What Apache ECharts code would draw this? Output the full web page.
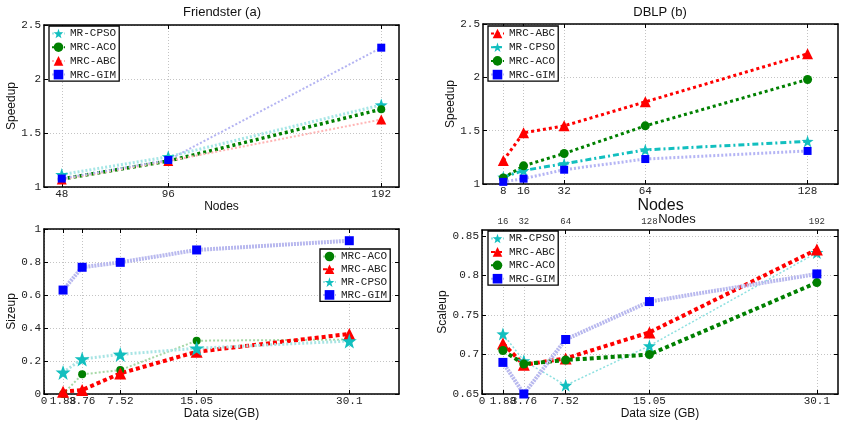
<!DOCTYPE html>
<html>
<head>
<meta charset="utf-8">
<script src="https://cdn.jsdelivr.net/npm/echarts@6/dist/echarts.min.js"></script>
<style>
  html, body { margin: 0; padding: 0; background: #fff; }
  #chart { width: 843px; height: 422px; }
</style>
</head>
<body>
<div id="chart"></div>
<script>
// (a) Friendster speedup
const friendNodes = [48, 96, 192]
const friendCPSO = [1.115, 1.28, 1.76]
const friendACO = [1.075, 1.24, 1.72]
const friendABC = [1.07, 1.24, 1.625]
const friendGIM = [1.078, 1.25, 2.29]

// (b) DBLP speedup
const dblpNodes = [8, 16, 32, 64, 128]
const dblpABC = [1.22, 1.48, 1.545, 1.77, 2.22]
const dblpCPSO = [1.065, 1.127, 1.19, 1.32, 1.4]
const dblpACO = [1.056, 1.17, 1.286, 1.545, 1.98]
const dblpGIM = [1.02, 1.05, 1.134, 1.234, 1.31]

// sizeup / scaleup against data size
const dataSizes = [1.88, 3.76, 7.52, 15.05, 30.1]
const sizeTicks = [0, 1.88, 3.76, 7.52, 15.05, 30.1]
const sizeupACO = [0.0, 0.119, 0.145, 0.323, 0.33]
const sizeupABC = [0.014, 0.024, 0.125, 0.256, 0.364]
const sizeupCPSO = [0.131, 0.212, 0.24, 0.277, 0.321]
const sizeupGIM = [0.63, 0.768, 0.798, 0.873, 0.929]

const scaleNodes = [16, 32, 64, 128, 192]
const scaleupCPSO = [0.726, 0.692, 0.661, 0.711, 0.829]
const scaleupABC = [0.714, 0.687, 0.695, 0.728, 0.833]
const scaleupACO = [0.705, 0.688, 0.693, 0.7, 0.791]
const scaleupGIM = [0.69, 0.65, 0.719, 0.767, 0.802]

const mono = 'Liberation Mono'
const sans = 'Liberation Sans'
const star = 'path://M0,-10 L2.35,-3.24 L9.51,-3.09 L3.8,1.24 L5.88,8.09 L0,4 L-5.88,8.09 L-3.8,1.24 L-9.51,-3.09 L-2.35,-3.24 Z'

const c = { cyan: '#12bfbf', green: '#008000', red: '#ff0000', blue: '#0000ff' }

function xAxes(gi, min, max, ticks, name, nameSize, nameGap, topFormatter) {
  const base = {
    type: 'value', gridIndex: gi, min, max,
    axisLine: { show: true, onZero: false, lineStyle: { color: '#000', width: 1.5 } },
    axisTick: { inside: true, length: 4, customValues: ticks, lineStyle: { color: '#000' } }
  }
  return [
    {
      ...base, position: 'bottom',
      axisLabel: { customValues: ticks, fontFamily: mono, fontSize: 11, color: '#222', margin: 2 },
      splitLine: { show: true, lineStyle: { color: '#c4c4c4', type: [1, 2] } },
      name, nameLocation: 'middle', nameGap,
      nameTextStyle: { fontFamily: sans, fontSize: nameSize, color: '#111', verticalAlign: 'top' }
    },
    {
      ...base, position: 'top',
      axisLabel: topFormatter
        ? { show: true, customValues: ticks, formatter: topFormatter, fontFamily: mono, fontSize: 9, color: '#333', margin: 4 }
        : { show: false },
      splitLine: { show: false }
    }
  ]
}

function yAxes(gi, min, max, ticks, name, nameGap) {
  const base = {
    type: 'value', gridIndex: gi, min, max,
    axisLine: { show: true, onZero: false, lineStyle: { color: '#000', width: 1.5 } },
    axisTick: { inside: true, length: 4, customValues: ticks, lineStyle: { color: '#000' } }
  }
  return [
    {
      ...base, position: 'left',
      axisLabel: { customValues: ticks, fontFamily: mono, fontSize: 11, color: '#222', margin: 3 },
      splitLine: { show: true, lineStyle: { color: '#c4c4c4', type: [1, 2] } },
      name, nameLocation: 'middle', nameGap,
      nameTextStyle: { fontFamily: sans, fontSize: 12, color: '#111' }
    },
    { ...base, position: 'right', axisLabel: { show: false }, splitLine: { show: false } }
  ]
}

function line(name, gi, xs, ys, color, symbol, size, lineColor, width, type) {
  return {
    type: 'line', name: name + '#' + gi,
    xAxisIndex: gi * 2, yAxisIndex: gi * 2,
    data: xs.map((x, i) => [x, ys[i]]),
    symbol, symbolSize: size, showAllSymbol: true,
    itemStyle: { color },
    lineStyle: { color: lineColor, width, type },
    clip: false, animation: false
  }
}

function legend(gi, names, left, top, gap) {
  return {
    orient: 'vertical', left, top,
    data: names.map((n) => n + '#' + gi),
    formatter: (n) => n.split('#')[0],
    itemWidth: 13, itemHeight: 12, itemGap: gap,
    textStyle: { fontFamily: mono, fontSize: 11, color: '#222' },
    borderColor: '#000', borderWidth: 1.3, backgroundColor: '#fff',
    padding: [2, 3, 1, 2], selectedMode: false
  }
}

const series = [
  line('MR-CPSO', 0, friendNodes, friendCPSO, c.cyan, star, 13, '#a6e6e6', 3, [2, 2]),
  line('MRC-ACO', 0, friendNodes, friendACO, c.green, 'circle', 8, c.green, 3.5, [3, 3]),
  line('MRC-ABC', 0, friendNodes, friendABC, c.red, 'triangle', 10, '#ffb4b4', 2, [2, 2]),
  line('MRC-GIM', 0, friendNodes, friendGIM, c.blue, 'rect', 8, '#b4b4f2', 2, [2, 2]),

  line('MRC-ABC', 1, dblpNodes, dblpABC, c.red, 'triangle', 11, c.red, 3, [3, 3]),
  line('MR-CPSO', 1, dblpNodes, dblpCPSO, c.cyan, star, 12, c.cyan, 3, [6, 3, 2, 3]),
  line('MRC-ACO', 1, dblpNodes, dblpACO, c.green, 'circle', 9, c.green, 3, [3, 3]),
  line('MRC-GIM', 1, dblpNodes, dblpGIM, c.blue, 'rect', 8, '#b4b4f4', 3, [2, 2]),

  line('MRC-ACO', 2, dataSizes, sizeupACO, c.green, 'circle', 8, '#a6d8a6', 2, [2, 2]),
  line('MRC-ABC', 2, dataSizes, sizeupABC, c.red, 'triangle', 12, c.red, 4, [4, 3]),
  line('MR-CPSO', 2, dataSizes, sizeupCPSO, c.cyan, star, 15, '#a8e4e4', 3, [2, 2]),
  line('MRC-GIM', 2, dataSizes, sizeupGIM, c.blue, 'rect', 9, '#b8b8ee', 4, [2, 1]),

  line('MR-CPSO', 3, dataSizes, scaleupCPSO, c.cyan, star, 13, '#8ee0e0', 1.5, [2, 2]),
  line('MRC-ABC', 3, dataSizes, scaleupABC, c.red, 'triangle', 12, c.red, 4, [4, 3]),
  line('MRC-ACO', 3, dataSizes, scaleupACO, c.green, 'circle', 9, c.green, 4, [4, 3]),
  line('MRC-GIM', 3, dataSizes, scaleupGIM, c.blue, 'rect', 9, '#b8b8ee', 4, [2, 1])
]

const chart = echarts.init(document.getElementById('chart'))
chart.setOption({
  backgroundColor: '#fff',
  animation: false,
  grid: [
    { left: 44, top: 25, width: 355, height: 162 },
    { left: 483, top: 24, width: 355, height: 160 },
    { left: 44, top: 229, width: 355, height: 165 },
    { left: 482, top: 230, width: 356, height: 164 }
  ],
  xAxis: [
    ...xAxes(0, 40, 200, friendNodes, 'Nodes', 12, 8),
    ...xAxes(1, 0, 140, dblpNodes, 'Nodes', 16, 7),
    ...xAxes(2, 0, 35, sizeTicks, 'Data size(GB)', 12, 9),
    ...xAxes(3, 0, 32, sizeTicks, 'Data size (GB)', 12, 9, (v) => {
      const i = dataSizes.indexOf(v)
      return i < 0 ? '' : String(scaleNodes[i])
    })
  ],
  yAxis: [
    ...yAxes(0, 1, 2.5, [1, 1.5, 2, 2.5], 'Speedup', 19),
    ...yAxes(1, 1, 2.5, [1, 1.5, 2, 2.5], 'Speedup', 20),
    ...yAxes(2, 0, 1, [0, 0.2, 0.4, 0.6, 0.8, 1], 'Sizeup', 19),
    ...yAxes(3, 0.65, 0.8576, [0.65, 0.7, 0.75, 0.8, 0.85], 'Scaleup', 24)
  ],
  legend: [
    legend(0, ['MR-CPSO', 'MRC-ACO', 'MRC-ABC', 'MRC-GIM'], 49, 26, 2.7),
    legend(1, ['MRC-ABC', 'MR-CPSO', 'MRC-ACO', 'MRC-GIM'], 488, 26, 2.7),
    legend(2, ['MRC-ACO', 'MRC-ABC', 'MR-CPSO', 'MRC-GIM'], 320, 249, 1.8),
    legend(3, ['MR-CPSO', 'MRC-ABC', 'MRC-ACO', 'MRC-GIM'], 488, 231, 2.4)
  ],
  graphic: [
    { type: 'text', x: 222, y: 12, style: { text: 'Friendster (a)', font: '13px "Liberation Sans"', fill: '#111', align: 'center', verticalAlign: 'middle' } },
    { type: 'text', x: 660, y: 12, style: { text: 'DBLP (b)', font: '13px "Liberation Sans"', fill: '#111', align: 'center', verticalAlign: 'middle' } },
    { type: 'text', x: 677, y: 219, style: { text: 'Nodes', font: '13px "Liberation Sans"', fill: '#111', align: 'center', verticalAlign: 'middle' } }
  ],
  series
})
</script>
</body>
</html>
